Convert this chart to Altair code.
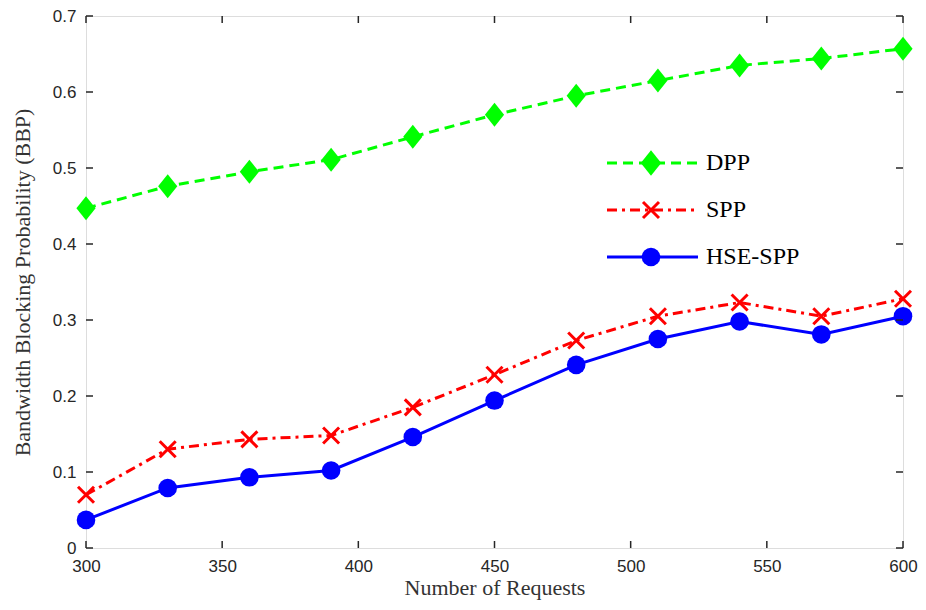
import altair as alt
import pandas as pd

requests = [300, 330, 360, 390, 420, 450, 480, 510, 540, 570, 600]
dpp = [0.447, 0.476, 0.495, 0.511, 0.541, 0.570, 0.595, 0.615, 0.635, 0.644, 0.657]
spp = [0.070, 0.130, 0.143, 0.148, 0.185, 0.228, 0.273, 0.305, 0.323, 0.305, 0.328]
hse = [0.037, 0.079, 0.093, 0.102, 0.146, 0.194, 0.241, 0.275, 0.298, 0.281, 0.305]

x_ticks = [300, 350, 400, 450, 500, 550, 600]
y_ticks = [0, 0.1, 0.2, 0.3, 0.4, 0.5, 0.6, 0.7]
series_names = ["DPP", "SPP", "HSE-SPP"]

W, H = 817, 532
AXC = "#262626"

xs = alt.Scale(domain=[300, 600], nice=False, zero=False)
ys = alt.Scale(domain=[0, 0.7], nice=False)

df = pd.DataFrame({"req": requests, "DPP": dpp, "SPP": spp, "HSE": hse})
dfx = pd.DataFrame({"t": x_ticks})
dfy = pd.DataFrame({"t": y_ticks})
one = pd.DataFrame({"a": [0]})

xax = alt.Axis(values=x_ticks, ticks=False, domain=False, grid=False, labelFont="Liberation Sans",
               labelFontSize=17, labelColor=AXC, labelPadding=10, labelFlush=False,
               title="Number of Requests", titleFont="Liberation Serif", titleFontSize=22,
               titleFontWeight="normal", titleColor="#333333", titlePadding=3)
yax = alt.Axis(values=y_ticks, ticks=False, domain=False, grid=False, labelFont="Liberation Sans",
               labelFontSize=17, labelColor=AXC, labelPadding=10, labelFlush=False,
               labelExpr="datum.value == 0 ? '0' : format(datum.value, '.1f')",
               title="Bandwidth Blocking Probability (BBP)", titleFont="Liberation Serif",
               titleFontSize=22, titleFontWeight="normal", titleColor="#333333", titlePadding=18)

base = alt.Chart(df)

diamond = "M-0.8,0L0,-1L0.8,0L0,1Z"
xmark = "M-1,-1L1,1M1,-1L-1,1"

dpp_line = base.mark_line(color="#00FF00", strokeWidth=3, strokeDash=[10, 6]).encode(
    x=alt.X("req:Q", scale=xs, axis=xax), y=alt.Y("DPP:Q", scale=ys, axis=yax))
dpp_pts = base.mark_point(shape=diamond, size=576, filled=True, color="#00FF00", opacity=1).encode(
    x=alt.X("req:Q", scale=xs), y=alt.Y("DPP:Q", scale=ys))
spp_line = base.mark_line(color="#FF0000", strokeWidth=3, strokeDash=[10, 5, 3, 5]).encode(
    x=alt.X("req:Q", scale=xs), y=alt.Y("SPP:Q", scale=ys))
spp_pts = base.mark_point(shape=xmark, size=256, filled=False, color="#FF0000", strokeWidth=3, opacity=1).encode(
    x=alt.X("req:Q", scale=xs), y=alt.Y("SPP:Q", scale=ys))
hse_line = base.mark_line(color="#0000FF", strokeWidth=3).encode(
    x=alt.X("req:Q", scale=xs), y=alt.Y("HSE:Q", scale=ys))
hse_pts = base.mark_point(shape="circle", size=346, filled=True, color="#0000FF", opacity=1).encode(
    x=alt.X("req:Q", scale=xs), y=alt.Y("HSE:Q", scale=ys))

# inward ticks (MATLAB style)
tl = 7
bt = alt.Chart(dfx).mark_rule(color=AXC, strokeWidth=1.5).encode(
    x=alt.X("t:Q", scale=xs), y=alt.value(H - tl), y2=alt.value(H))
tt = alt.Chart(dfx).mark_rule(color=AXC, strokeWidth=1.5).encode(
    x=alt.X("t:Q", scale=xs), y=alt.value(0), y2=alt.value(tl))
lt = alt.Chart(dfy).mark_rule(color=AXC, strokeWidth=1.5).encode(
    y=alt.Y("t:Q", scale=ys), x=alt.value(0), x2=alt.value(tl))
rt = alt.Chart(dfy).mark_rule(color=AXC, strokeWidth=1.5).encode(
    y=alt.Y("t:Q", scale=ys), x=alt.value(W - tl), x2=alt.value(W))

# legend
lx1, lx2, lmx, ltx = 521, 612, 565, 620
lys = [147, 194, 241]
leg = []
leg.append(alt.Chart(one).mark_rule(color="#00FF00", strokeWidth=3, strokeDash=[10, 6]).encode(
    x=alt.value(lx1), x2=alt.value(lx2), y=alt.value(lys[0])))
leg.append(alt.Chart(one).mark_point(shape=diamond, size=650, filled=True, color="#00FF00", opacity=1).encode(
    x=alt.value(lmx), y=alt.value(lys[0])))
leg.append(alt.Chart(one).mark_rule(color="#FF0000", strokeWidth=3, strokeDash=[10, 5, 3, 5]).encode(
    x=alt.value(lx1), x2=alt.value(lx2), y=alt.value(lys[1])))
leg.append(alt.Chart(one).mark_point(shape=xmark, size=256, filled=False, color="#FF0000", strokeWidth=3, opacity=1).encode(
    x=alt.value(lmx), y=alt.value(lys[1])))
leg.append(alt.Chart(one).mark_rule(color="#0000FF", strokeWidth=3).encode(
    x=alt.value(lx1), x2=alt.value(lx2), y=alt.value(lys[2])))
leg.append(alt.Chart(one).mark_point(shape="circle", size=346, filled=True, color="#0000FF", opacity=1).encode(
    x=alt.value(lmx), y=alt.value(lys[2])))
for name, yy in zip(series_names, lys):
    leg.append(alt.Chart(one).mark_text(text=name, align="left", baseline="middle", font="Liberation Serif",
                                        fontSize=24, color="#000000").encode(
        x=alt.value(ltx), y=alt.value(yy)))

chart = alt.layer(
    dpp_line, spp_line, hse_line, dpp_pts, spp_pts, hse_pts, bt, tt, lt, rt, *leg
).properties(
    width=W, height=H,
    autosize=alt.AutoSizeParams(type="none"),
    padding={"left": 78, "top": 8, "right": 15, "bottom": 54},
).configure_view(stroke=AXC, strokeWidth=1.5).configure(background="white")

chart.save("out.html", embed_options={"renderer": "svg", "actions": False})
